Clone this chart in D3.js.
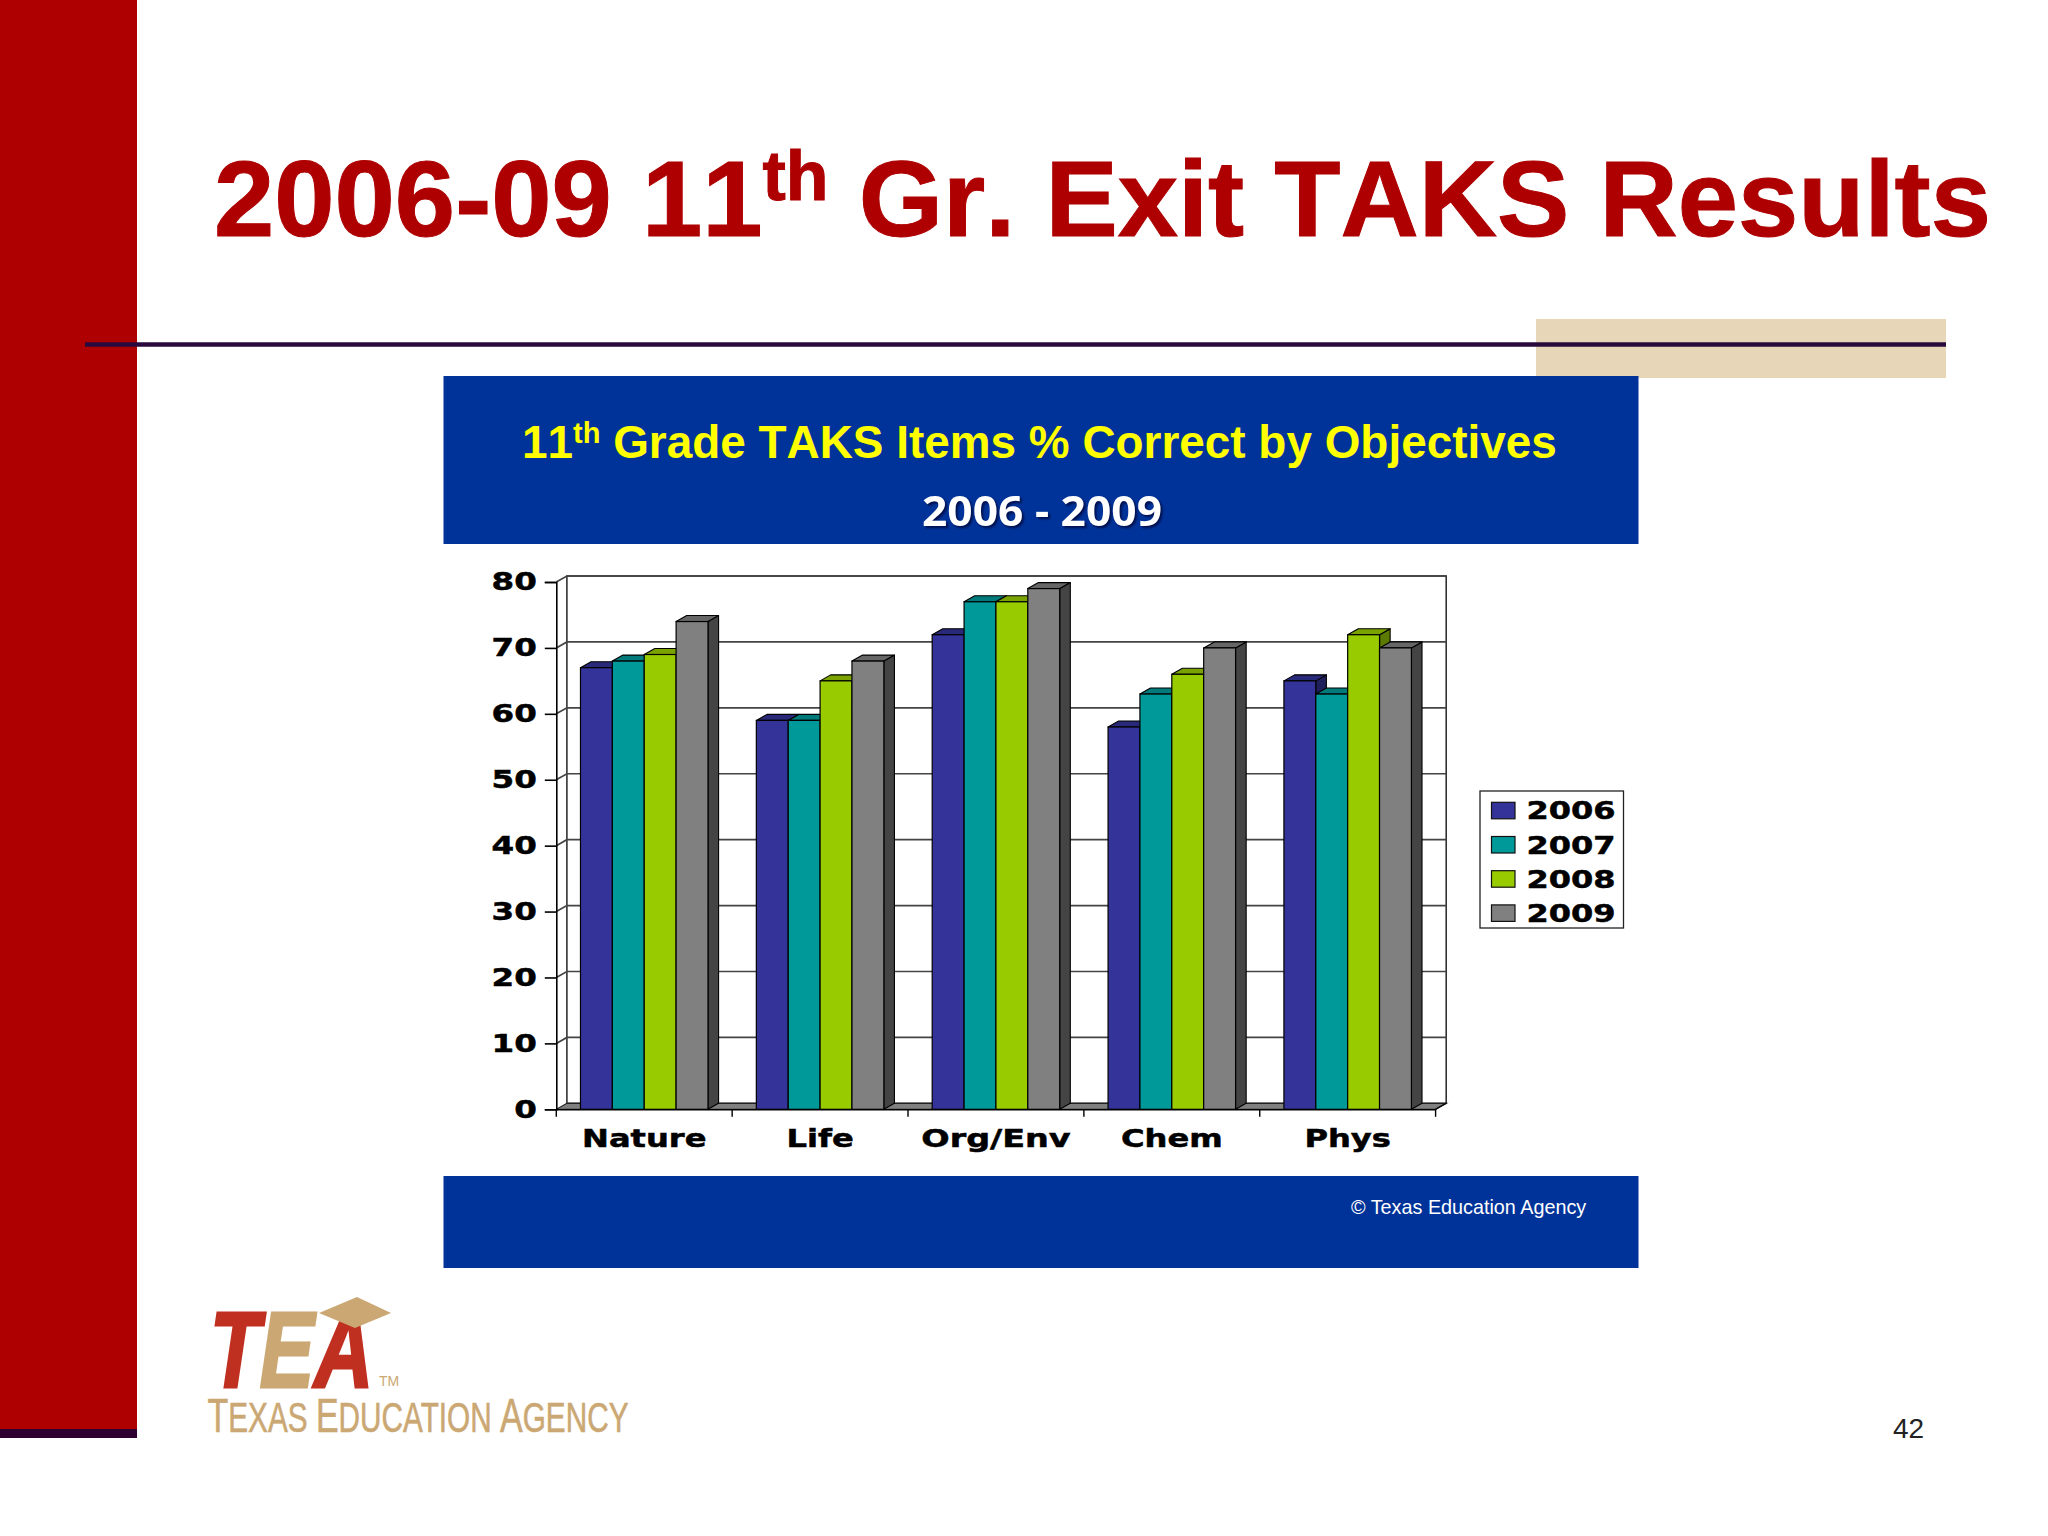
<!DOCTYPE html>
<html><head><meta charset="utf-8">
<script src="https://cdn.jsdelivr.net/npm/d3@7"></script>
<style>html,body{margin:0;padding:0;background:#fff}svg{display:block}</style>
</head><body><svg id="c" width="2048" height="1536"></svg>
<script>
const categories = ["Nature","Life","Org/Env","Chem","Phys"];
const years = ["2006","2007","2008","2009"];
const s2006 = [67,59,72,58,65];
const s2007 = [68,59,77,63,63];
const s2008 = [69,65,77,66,72];
const s2009 = [74,68,79,70,70];
const yTicks = [0,10,20,30,40,50,60,70,80];
const seriesValues = [s2006,s2007,s2008,s2009];
const frontCol = ["#333399","#009999","#99CC00","#808080"];
const topCol = ["#29297a","#007a7a","#7aa300","#666666"];
const sideCol = ["#1f1f5c","#005c5c","#5c7a00","#444444"];

const svg = d3.select("#c");
const SANS = "'Liberation Sans',Arial,sans-serif", WIDE = "'DejaVu Sans',Verdana,sans-serif";
const RED="#AE0000", BLUE="#003399", TAN="#CBA873";

function rect(x0,y0,x1,y1,fill){return svg.append("rect").attr("x",x0).attr("y",y0).attr("width",x1-x0).attr("height",y1-y0).attr("fill",fill);}
function txt(parent,x,y,s,size,weight,fill,family,anchor){
  return parent.append("text").attr("x",x).attr("y",y).text(s).attr("font-size",size).attr("font-weight",weight)
    .attr("fill",fill).attr("font-family",family).attr("text-anchor",anchor||"start");
}
function fit(sel,w){sel.attr("textLength",w).attr("lengthAdjust","spacingAndGlyphs");return sel;}
function stretch(sel,f){sel.each(function(d){const k=(d==="Org/Env")?f*1.04:f;d3.select(this).attr("textLength",this.getComputedTextLength()*k).attr("lengthAdjust","spacingAndGlyphs");});}

// slide furniture
rect(0,0,137,1429,RED);
rect(0,1429,137,1438,"#2D0030");
rect(1536,319,1946,378,"#E7D7B8");
svg.append("line").attr("x1",85).attr("x2",1946).attr("y1",344.5).attr("y2",344.5).attr("stroke","#2A0A3C").attr("stroke-width",4.5);
rect(443.5,376,1638.5,544,BLUE);
rect(443.5,1176,1638.5,1268,BLUE);

// slide title
const title = txt(svg,214,236,"",108.4,700,RED,SANS).attr("stroke",RED).attr("stroke-width",1).style("font-kerning","none");
title.append("tspan").text("2006-09 11");
title.append("tspan").text("th").attr("font-size",70).attr("dy",-36);
title.append("tspan").text(" Gr. Exit TAKS Results").attr("dy",36);

// panel heading
const head = txt(svg,522,457.5,"",45.9,700,"#FFFF00",SANS).style("font-kerning","none");
head.append("tspan").text("11");
head.append("tspan").text("th").attr("font-size",29).attr("dy",-15);
head.append("tspan").text(" Grade TAKS Items % Correct by Objectives").attr("dy",15);
fit(txt(svg,922,526,"2006 - 2009",41,700,"#fff","'Noto Sans',sans-serif"),240).style("filter","drop-shadow(2px 2px 1px #00104d)");
txt(svg,1351,1214,"© Texas Education Agency",19.8,400,"#fff",SANS);

// chart geometry
const left=556.3,right=1435.6,top0=582,bottom=1109.3,dx=10.6,dy=6;
const x = d3.scaleBand().domain(categories).range([left,right]).paddingInner(0.275).paddingOuter(0.1375);
const xs = d3.scaleBand().domain(years).range([0,x.bandwidth()]);
const y = d3.scaleLinear().domain([0,80]).range([bottom,top0]);
const chart = svg.append("g");

// back wall, floor, left wall
chart.append("rect").attr("x",left+dx).attr("y",top0-dy).attr("width",right-left).attr("height",bottom-top0).attr("fill","#fff").attr("stroke","#333").attr("stroke-width",1.6);
chart.append("path").attr("d",`M${left},${bottom}L${right},${bottom}L${right+dx},${bottom-dy}L${left+dx},${bottom-dy}Z`).attr("fill","#808080").attr("stroke","#222").attr("stroke-width",1.2);
chart.selectAll(".grid").data(yTicks.filter(d=>d>0)).join("path").attr("class","grid").attr("fill","none")
  .attr("d",d=>`M${left},${y(d)}L${left+dx},${y(d)-dy}L${right+dx},${y(d)-dy}`).attr("stroke","#444").attr("stroke-width",1.7);

// y axis
const yAxis = chart.append("g").attr("transform",`translate(${left},0)`).call(d3.axisLeft(y).tickValues(yTicks).tickSize(11.5).tickPadding(8));
yAxis.selectAll("line,path").attr("stroke","#000").attr("stroke-width",1.6);
yAxis.selectAll("text").attr("font-size",25).attr("font-weight",700).attr("font-family",WIDE).attr("fill","#000").attr("stroke","#000").attr("stroke-width",0.5).attr("dy","0.31em");
stretch(yAxis.selectAll("text"),1.3);

// bars
const flat = categories.flatMap((c,i)=>years.map((yr,j)=>({c,yr,j,v:seriesValues[j][i]})));
const bars = chart.selectAll(".bar").data(flat).join("g").attr("class","bar");
const bx=d=>x(d.c)+xs(d.yr), bw=xs.bandwidth();
bars.append("path").attr("fill",d=>sideCol[d.j]).attr("stroke","#000").attr("stroke-width",1.1).attr("stroke-linejoin","round")
  .attr("d",d=>`M${bx(d)+bw},${y(d.v)}l${dx},${-dy}L${bx(d)+bw+dx},${bottom-dy}L${bx(d)+bw},${bottom}Z`);
bars.append("path").attr("fill",d=>topCol[d.j]).attr("stroke","#000").attr("stroke-width",1.1).attr("stroke-linejoin","round")
  .attr("d",d=>`M${bx(d)},${y(d.v)}l${dx},${-dy}h${bw}l${-dx},${dy}Z`);
bars.append("rect").attr("x",bx).attr("y",d=>y(d.v)).attr("width",bw).attr("height",d=>bottom-y(d.v))
  .attr("fill",d=>frontCol[d.j]).attr("stroke","#000").attr("stroke-width",1.2);

// x axis
const xAxis = chart.append("g").attr("transform",`translate(0,${bottom})`).call(d3.axisBottom(x).tickSize(0));
xAxis.selectAll("path").attr("stroke","#000").attr("stroke-width",1.6);
xAxis.selectAll("text").attr("y",38).attr("dy",0).attr("font-size",25).attr("font-weight",700).attr("font-family",WIDE).attr("fill","#000").attr("stroke","#000").attr("stroke-width",0.5);
stretch(xAxis.selectAll("text"),1.285);
xAxis.selectAll(".edge").data(d3.range(categories.length+1)).join("line").attr("class","edge")
  .attr("x1",i=>left+i*x.step()).attr("x2",i=>left+i*x.step()).attr("y1",0).attr("y2",7.5).attr("stroke","#000").attr("stroke-width",1.4);

// right wall corner
chart.append("path").attr("d",`M${right},${bottom}l${dx},${-dy}`).attr("stroke","#000").attr("stroke-width",1.2).attr("fill","none");

// legend
const lg = svg.append("g");
lg.append("rect").attr("x",1480).attr("y",791).attr("width",143.5).attr("height",137).attr("fill","#fff").attr("stroke","#222").attr("stroke-width",1.3);
const row = d3.scaleBand().domain(years).range([791+6.3,791+6.3+34.2*4]);
years.forEach((yr,j)=>{
  lg.append("rect").attr("x",1491.5).attr("y",row(yr)+5).attr("width",23.5).attr("height",16.5).attr("fill",frontCol[j]).attr("stroke","#111").attr("stroke-width",1.2);
  fit(txt(lg,1526.5,row(yr)+22,yr,25,700,"#000",WIDE),89).attr("stroke","#000").attr("stroke-width",0.5);
});

// logo
const tm = svg.append("g");
const logoText = fit(txt(tm,210,1386.5,"",108,700,"#C03020",SANS),163).attr("font-style","italic").attr("stroke-width",3);
[["T","#C03020"],["E",TAN],["A","#C03020"]].forEach(([s,c])=>logoText.append("tspan").text(s).attr("fill",c).attr("stroke",c));
tm.append("path").attr("d","M319,1313L357,1297L391,1313L355,1328Z").attr("fill",TAN);
txt(svg,379,1386,"TM",14,400,TAN,SANS);
const tea = fit(txt(svg,207.5,1431.5,"",42,400,TAN,SANS),421).attr("stroke",TAN).attr("stroke-width",0.6);
[["T",48],["EXAS ",42],["E",48],["DUCATION ",42],["A",48],["GENCY",42]].forEach(([s,f])=>tea.append("tspan").text(s).attr("font-size",f));
txt(svg,1893,1438,"42",28,400,"#222",SANS);
</script></body></html>
